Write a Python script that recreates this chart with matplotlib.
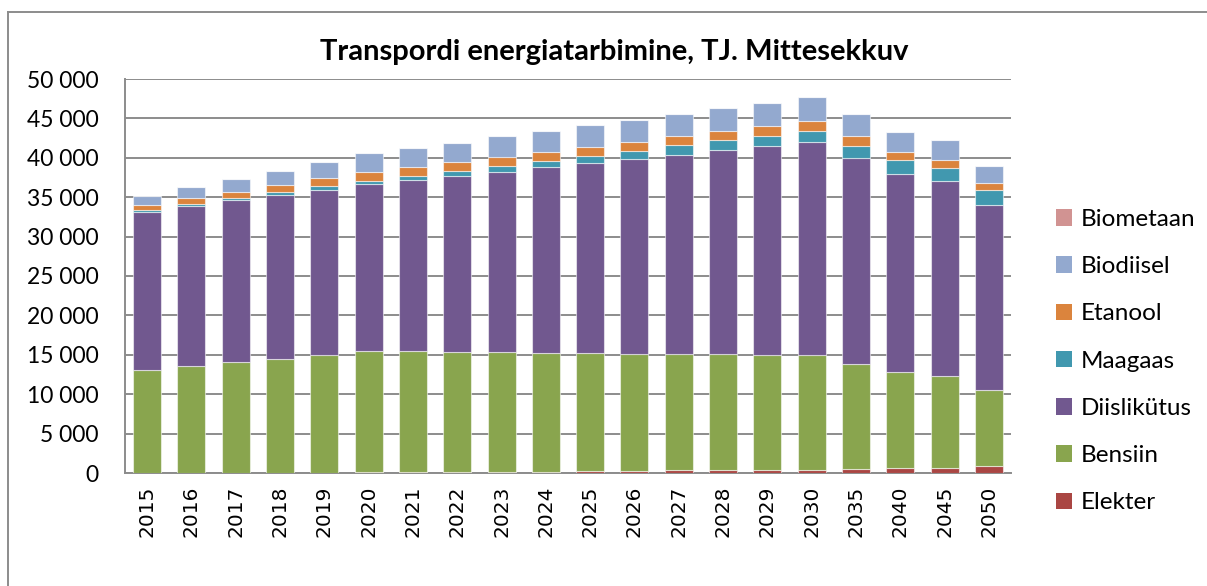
import numpy as np
import matplotlib.pyplot as plt
from matplotlib.lines import Line2D
from matplotlib.patches import Patch

aastad = ["2015", "2016", "2017", "2018", "2019", "2020", "2021", "2022", "2023", "2024",
          "2025", "2026", "2027", "2028", "2029", "2030", "2035", "2040", "2045", "2050"]

# TJ, loetud pildilt
elekter = [50, 50, 50, 50, 60, 70, 100, 120, 150, 180,
           250, 280, 330, 340, 350, 370, 450, 640, 650, 830]
bensiin = [13030, 13540, 14000, 14460, 14920, 15370, 15340, 15240, 15170, 15100,
           14980, 14870, 14780, 14720, 14630, 14570, 13430, 12140, 11630, 9760]
diisel = [20080, 20300, 20550, 20770, 20970, 21180, 21710, 22270, 22910, 23500,
          24050, 24640, 25230, 25910, 26500, 27050, 26120, 25150, 24720, 23420]
maagaas = [220, 250, 300, 380, 420, 470, 530, 640, 700, 840,
           970, 1130, 1240, 1240, 1340, 1470, 1560, 1730, 1700, 1850]
etanool = [630, 710, 760, 880, 1010, 1090, 1180, 1180, 1230, 1140,
           1180, 1110, 1160, 1190, 1190, 1220, 1180, 1060, 1050, 940]
biodiisel = [1180, 1440, 1640, 1810, 2110, 2370, 2370, 2450, 2570, 2620,
             2710, 2780, 2830, 2870, 2990, 3080, 2790, 2610, 2490, 2150]
biometaan = [0] * 20

nimed = ["Elekter", "Bensiin", "Diislikütus", "Maagaas", "Etanool", "Biodiisel", "Biometaan"]
seeriad = [elekter, bensiin, diisel, maagaas, etanool, biodiisel, biometaan]
varvid = ["#AA4643", "#89A54E", "#71588F", "#4198AF", "#DB843D", "#93A9CF", "#D19392"]

y_ticks = [0, 5000, 10000, 15000, 20000, 25000, 30000, 35000, 40000, 45000, 50000]
y_sildid = ["0", "5 000", "10 000", "15 000", "20 000", "25 000",
            "30 000", "35 000", "40 000", "45 000", "50 000"]

W, H = 1207, 586
fig = plt.figure(figsize=(W / 100, H / 100), dpi=100)
ax = fig.add_axes([125 / W, 1 - 473 / H, (1011 - 125) / W, (473 - 79) / H])

x = np.arange(len(aastad))
alus = np.zeros(len(aastad))
for nimi, vals, c in zip(nimed, seeriad, varvid):
    vals = np.array(vals, dtype=float)
    ax.bar(x, vals, 0.63, bottom=alus, color=c, edgecolor=(1, 1, 1, 0.55),
           linewidth=0.8, label=nimi, zorder=3)
    alus += vals

ax.set_xlim(-0.5, len(aastad) - 0.5)
ax.set_ylim(0, 50000)
ax.set_yticks(y_ticks)
ax.set_yticklabels(y_sildid, fontsize=16.5, family="Lato")
ax.set_xticks(x)
ax.set_xticklabels(aastad, rotation=90, fontsize=14.5, family="DejaVu Sans")
ax.tick_params(length=0, pad=9)
ax.tick_params(axis="y", pad=19)

ax.grid(axis="y", color="#8C8C8C", linewidth=1.4, zorder=0)
for s in ["top", "right"]:
    ax.spines[s].set_visible(False)
ax.spines["left"].set_color("#8C8C8C")
ax.spines["left"].set_linewidth(1.4)
ax.spines["bottom"].set_color("#8C8C8C")
ax.spines["bottom"].set_linewidth(1.4)

fig.text(614 / W, 1 - 52 / H, "Transpordi energiatarbimine, TJ. Mittesekkuv",
         ha="center", va="center", fontsize=21, fontweight="bold", family="Lato")

kaepided = [Patch(facecolor=c, edgecolor="none") for c in varvid][::-1]
fig.legend(kaepided, nimed[::-1], loc="upper left",
           bbox_to_anchor=(1034 / W, 1 - 187 / H), frameon=False,
           prop={"family": "Lato", "size": 17.5}, handlelength=0.68,
           handleheight=0.68, handletextpad=0.35, labelspacing=1.08)

# raam ümber diagrammi
fig.add_artist(Line2D([8 / W, 8 / W], [0, 1 - 12 / H], color="#8C8C8C", lw=1.4))
fig.add_artist(Line2D([8 / W, 1], [1 - 12 / H, 1 - 12 / H], color="#8C8C8C", lw=1.4))

fig.savefig("out.png", dpi=100)
